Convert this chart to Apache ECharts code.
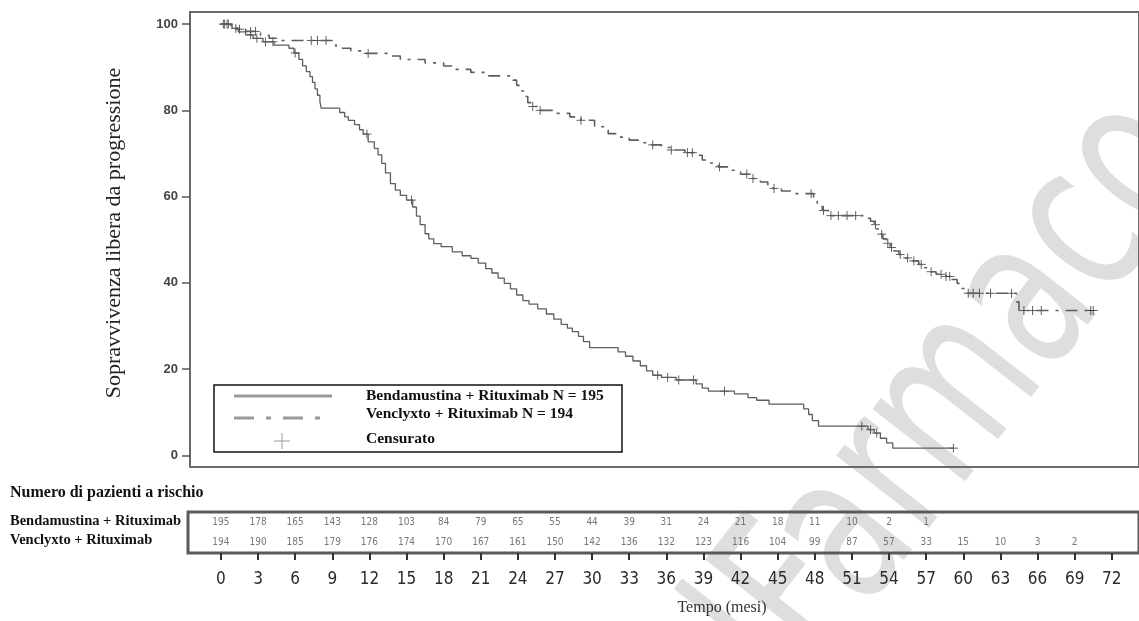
<!DOCTYPE html>
<html>
<head>
<meta charset="utf-8">
<script src="https://cdn.jsdelivr.net/npm/echarts@6/dist/echarts.min.js"></script>
<style>
  html, body { margin: 0; padding: 0; background: #fff; }
  #chart { width: 1139px; height: 621px; }
</style>
</head>
<body>
<div id="chart"></div>
<script>
// Kaplan-Meier steps [mesi, % sopravvivenza]
const bendaSteps = [
  [0, 100], [0.9, 99.0], [1.4, 98.2], [2.0, 97.5], [2.6, 96.7], [3.4, 95.9], [4.3, 95.1],
  [5.5, 94.4], [5.9, 93.3], [6.3, 91.8], [6.6, 90.3], [6.9, 89.0], [7.2, 87.8], [7.4, 86.5],
  [7.6, 85.0], [7.8, 83.5], [8.0, 82.0], [8.1, 80.5], [9.6, 79.5], [10.0, 78.5], [10.3, 77.7],
  [10.8, 76.7], [11.2, 75.5], [11.5, 74.5], [11.9, 72.7], [12.4, 71.2], [12.7, 69.7],
  [13.0, 67.7], [13.3, 65.5], [13.7, 63.0], [14.1, 61.5], [14.5, 60.3], [15.0, 59.2],
  [15.5, 57.6], [15.8, 55.5], [16.1, 53.5], [16.5, 51.4], [16.8, 50.2], [17.2, 49.1],
  [17.8, 48.4], [18.7, 47.2], [19.5, 46.3], [20.2, 45.7], [20.8, 44.6], [21.4, 43.3],
  [21.9, 42.3], [22.4, 41.1], [22.9, 39.9], [23.4, 38.6], [23.9, 37.2], [24.4, 35.9],
  [24.9, 35.1], [25.6, 34.0], [26.3, 32.8], [26.9, 31.6], [27.5, 30.4], [28.0, 29.5],
  [28.4, 28.7], [28.9, 27.6], [29.3, 26.4], [29.8, 25.0], [32.1, 24.0], [32.7, 23.0],
  [33.3, 21.9], [33.9, 20.8], [34.4, 19.6], [34.9, 18.6], [35.6, 18.1], [36.8, 17.5],
  [38.4, 16.6], [38.9, 15.6], [39.4, 14.9], [41.5, 14.3], [42.6, 13.4], [43.3, 12.8],
  [44.3, 11.9], [47.1, 10.8], [47.5, 9.5], [47.8, 8.1], [48.3, 6.8], [52.3, 6.0],
  [52.8, 5.2], [53.3, 4.0], [53.8, 2.9], [54.3, 1.7], [59.2, 1.7]
];
const venclSteps = [
  [0, 100], [0.8, 99.5], [1.3, 98.8], [2.0, 98.3], [3.2, 97.4], [3.9, 96.7], [4.5, 96.2],
  [9.0, 95.4], [9.3, 94.4], [10.5, 93.8], [11.5, 93.2], [13.5, 92.6], [14.5, 91.8],
  [16.5, 91.0], [18.0, 90.3], [19.0, 89.5], [20.2, 88.8], [21.5, 88.0], [23.6, 87.0],
  [23.9, 85.8], [24.2, 84.5], [24.5, 83.2], [24.8, 81.8], [25.1, 80.9], [25.6, 80.0],
  [26.8, 79.3], [28.2, 78.5], [29.1, 77.7], [30.2, 76.2], [31.3, 74.6], [32.2, 73.8],
  [33.0, 73.1], [34.0, 72.5], [34.8, 72.0], [35.6, 71.4], [36.4, 70.8], [37.5, 70.2],
  [38.3, 69.6], [38.9, 68.5], [39.5, 67.8], [40.2, 66.9], [41.0, 66.1], [42.0, 65.2],
  [42.9, 64.2], [43.6, 63.4], [44.2, 62.6], [44.6, 61.9], [45.3, 61.3], [46.1, 60.7],
  [47.9, 59.5], [48.2, 58.3], [48.6, 56.8], [49.1, 55.6], [52.2, 55.0], [52.5, 54.3],
  [52.8, 53.5], [53.0, 52.5], [53.3, 51.3], [53.5, 50.2], [53.8, 49.2], [54.1, 48.2],
  [54.4, 47.4], [54.8, 46.6], [55.3, 45.8], [55.9, 45.1], [56.4, 44.3], [56.8, 43.5],
  [57.2, 42.6], [57.8, 42.0], [58.6, 41.5], [59.1, 40.8], [59.5, 39.9], [59.8, 38.7],
  [60.1, 37.6], [64.3, 35.6], [64.5, 33.6], [70.5, 33.6]
];
const bendaCensored = [
  [0.3, 100], [0.6, 100], [1.2, 99.0], [2.4, 97.5], [2.9, 96.7], [3.6, 95.9], [4.2, 95.9],
  [6.0, 93.3], [11.8, 74.5], [15.4, 59.2], [35.3, 18.6], [36.1, 18.1], [37.0, 17.5],
  [38.2, 17.5], [40.7, 14.9], [51.8, 6.8], [52.5, 6.0], [53.0, 5.2], [59.2, 1.7]
];
const venclCensored = [
  [0.2, 100], [0.5, 100], [1.5, 98.8], [2.4, 98.3], [2.8, 98.3], [7.3, 96.2], [7.8, 96.2],
  [8.5, 96.2], [11.9, 93.2], [25.2, 80.9], [25.8, 80.0], [29.1, 77.7], [34.9, 72.0],
  [36.4, 70.8], [37.7, 70.2], [38.1, 70.2], [40.3, 66.9], [42.5, 65.2], [43.0, 64.2],
  [44.7, 61.9], [47.7, 60.7], [48.7, 56.8], [49.3, 55.6], [49.9, 55.6], [50.6, 55.6],
  [51.3, 55.6], [52.9, 53.5], [53.4, 51.3], [53.9, 49.2], [54.2, 48.2], [54.9, 46.6],
  [55.5, 45.8], [56.0, 45.1], [56.6, 44.3], [57.4, 42.6], [58.2, 42.0], [58.6, 41.5],
  [58.9, 41.5], [60.4, 37.6], [60.8, 37.6], [61.3, 37.6], [62.2, 37.6], [63.9, 37.6],
  [64.9, 33.6], [65.6, 33.6], [66.3, 33.6], [70.3, 33.6], [70.5, 33.6]
];

// numero di pazienti a rischio
const riskTimes = [0, 3, 6, 9, 12, 15, 18, 21, 24, 27, 30, 33, 36, 39, 42, 45, 48, 51, 54, 57, 60, 63, 66, 69, 72];
const riskBenda = [195, 178, 165, 143, 128, 103, 84, 79, 65, 55, 44, 39, 31, 24, 21, 18, 11, 10, 2, 1];
const riskVencl = [194, 190, 185, 179, 176, 174, 170, 167, 161, 150, 142, 136, 132, 123, 116, 104, 99, 87, 57, 33, 15, 10, 3, 2];
const yTicks = [0, 20, 40, 60, 80, 100];

const serif = '"Liberation Serif", "DejaVu Serif", serif';
const narrow = '"DejaVu Sans Condensed", "Liberation Sans Narrow", Roboto, sans-serif';
const plusPath = 'path://M5,0L5,10M0,5L10,5';

const riskData = [];
riskBenda.forEach((n, i) => riskData.push([riskTimes[i], 1, n]));
riskVencl.forEach((n, i) => riskData.push([riskTimes[i], 0, n]));

const chart = echarts.init(document.getElementById('chart'));

chart.setOption({
  animation: false,
  backgroundColor: '#fff',
  grid: [
    { left: 190, top: 12, right: 0, bottom: 154, show: true, borderColor: '#6a6a6a', borderWidth: 2 },
    { left: 188, top: 512, right: 0, height: 41, show: true, borderColor: '#5a5a5a', borderWidth: 3 }
  ],
  xAxis: [
    {
      type: 'value', gridIndex: 0, min: -2.5, max: 74.2,
      axisLine: { show: false, onZero: false }, axisTick: { show: false },
      axisLabel: { show: false }, splitLine: { show: false }
    },
    {
      type: 'value', gridIndex: 1, min: -2.66, max: 74.2,
      axisLine: { show: false, onZero: false },
      axisTick: { show: true, customValues: riskTimes, length: 7, lineStyle: { color: '#333', width: 2 } },
      axisLabel: {
        customValues: riskTimes, margin: 18, fontSize: 17, color: '#2a2a2a', fontFamily: narrow
      },
      splitLine: { show: false }
    }
  ],
  yAxis: [
    {
      type: 'value', gridIndex: 0, min: -2.67, max: 102.8,
      axisLine: { show: false, onZero: false },
      axisTick: { show: true, customValues: yTicks, length: 8, lineStyle: { color: '#555', width: 1.5 } },
      axisLabel: {
        customValues: yTicks, margin: 12, fontSize: 13, fontWeight: 'bold',
        color: '#444', fontFamily: '"Liberation Sans", Arial, sans-serif'
      },
      splitLine: { show: false }
    },
    {
      type: 'category', gridIndex: 1, data: ['Venclyxto', 'Bendamustina'],
      axisLine: { show: false, onZero: false }, axisTick: { show: false }, axisLabel: { show: false }
    }
  ],
  series: [
    {
      name: 'Bendamustina + Rituximab', type: 'line', step: 'end', data: bendaSteps,
      xAxisIndex: 0, yAxisIndex: 0, showSymbol: false,
      lineStyle: { color: '#5e5e5e', width: 1.3 }
    },
    {
      name: 'Venclyxto + Rituximab', type: 'line', step: 'end', data: venclSteps,
      xAxisIndex: 0, yAxisIndex: 0, showSymbol: false,
      lineStyle: { color: '#5e5e5e', width: 1.6, type: [12, 7, 3, 7] }
    },
    {
      type: 'scatter', data: bendaCensored, xAxisIndex: 0, yAxisIndex: 0,
      symbol: plusPath, symbolSize: 9,
      itemStyle: { color: 'transparent', borderColor: '#3a3a3a', borderWidth: 1 }
    },
    {
      type: 'scatter', data: venclCensored, xAxisIndex: 0, yAxisIndex: 0,
      symbol: plusPath, symbolSize: 9,
      itemStyle: { color: 'transparent', borderColor: '#3a3a3a', borderWidth: 1 }
    },
    {
      type: 'scatter', data: riskData, xAxisIndex: 1, yAxisIndex: 1,
      symbolSize: 0,
      label: {
        show: true, position: 'inside', formatter: (p) => p.value[2],
        fontSize: 10, color: '#555', fontFamily: narrow
      }
    }
  ],
  graphic: [
    // filigrana
    {
      type: 'text', x: 665, y: 600, rotation: 52 * Math.PI / 180, scaleX: 0.78, z: -10, silent: true,
      style: {
        text: 'lFarmaco', fill: '#dedede',
        font: '215px ' + narrow
      }
    },
    {
      type: 'text', x: 114, y: 233, rotation: Math.PI / 2,
      style: {
        text: 'Sopravvivenza libera da progressione', fill: '#222',
        font: '22px ' + serif, align: 'center', verticalAlign: 'middle'
      }
    },
    // legenda
    {
      type: 'rect', shape: { x: 214, y: 385, width: 408, height: 67 }, z: 10,
      style: { fill: '#fff', stroke: '#111', lineWidth: 1.5 }
    },
    {
      type: 'line', shape: { x1: 234, y1: 396, x2: 332, y2: 396 }, z: 11,
      style: { stroke: '#999', lineWidth: 3 }
    },
    {
      type: 'line', shape: { x1: 234, y1: 418, x2: 326, y2: 418 }, z: 11,
      style: { stroke: '#999', lineWidth: 3, lineDash: [20, 12, 5, 12] }
    },
    {
      type: 'line', shape: { x1: 274, y1: 441, x2: 290, y2: 441 }, z: 11,
      style: { stroke: '#999', lineWidth: 1 }
    },
    {
      type: 'line', shape: { x1: 282, y1: 433, x2: 282, y2: 449 }, z: 11,
      style: { stroke: '#999', lineWidth: 1 }
    },
    {
      type: 'text', x: 366, y: 396, z: 11,
      style: { text: 'Bendamustina + Rituximab N = 195', fill: '#111', font: 'bold 15.5px ' + serif, verticalAlign: 'middle' }
    },
    {
      type: 'text', x: 366, y: 414, z: 11,
      style: { text: 'Venclyxto + Rituximab N = 194', fill: '#111', font: 'bold 15.5px ' + serif, verticalAlign: 'middle' }
    },
    {
      type: 'text', x: 366, y: 439, z: 11,
      style: { text: 'Censurato', fill: '#111', font: 'bold 15.5px ' + serif, verticalAlign: 'middle' }
    },
    // tabella dei pazienti a rischio
    {
      type: 'text', x: 10, y: 493,
      style: { text: 'Numero di pazienti a rischio', fill: '#111', font: 'bold 16px ' + serif, verticalAlign: 'middle' }
    },
    {
      type: 'text', x: 10, y: 521,
      style: { text: 'Bendamustina + Rituximab', fill: '#111', font: 'bold 14.5px ' + serif, verticalAlign: 'middle' }
    },
    {
      type: 'text', x: 10, y: 540,
      style: { text: 'Venclyxto + Rituximab', fill: '#111', font: 'bold 14.5px ' + serif, verticalAlign: 'middle' }
    },
    {
      type: 'text', x: 722, y: 608,
      style: { text: 'Tempo (mesi)', fill: '#333', font: '16px ' + serif, align: 'center', verticalAlign: 'middle' }
    }
  ]
});
</script>
</body>
</html>
